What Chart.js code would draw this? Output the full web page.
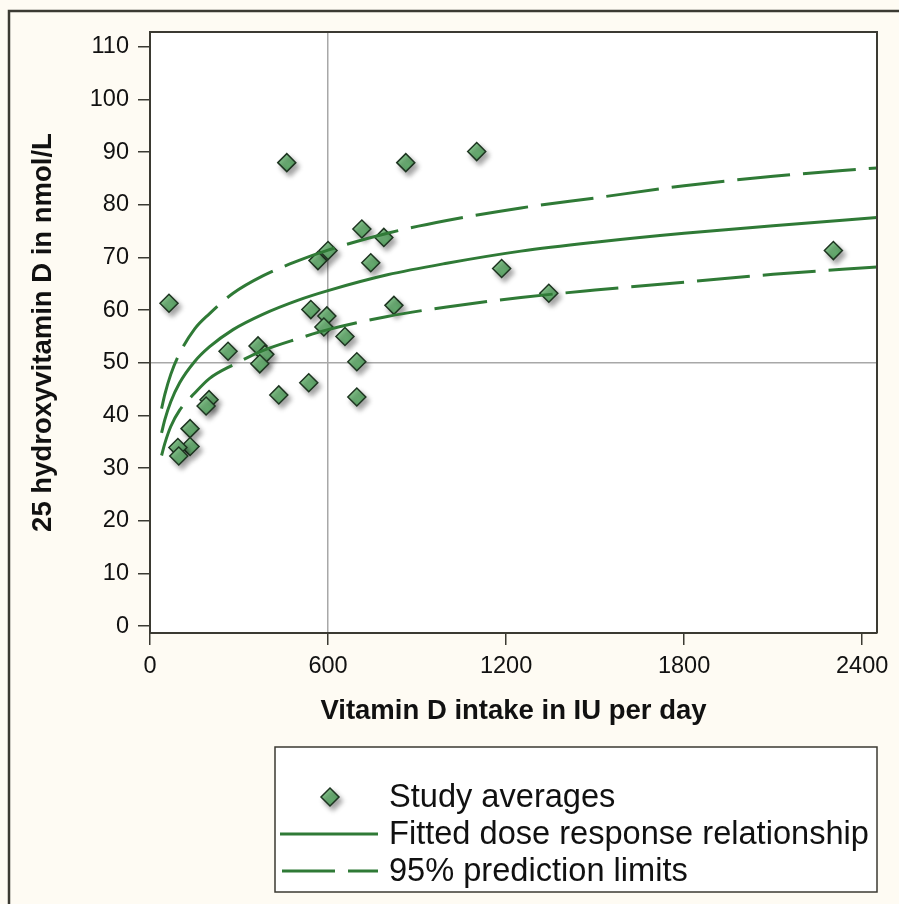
<!DOCTYPE html>
<html>
<head>
<meta charset="utf-8">
<script src="https://cdn.jsdelivr.net/npm/chart.js@4.4.1/dist/chart.umd.min.js"></script>
<style>
  html, body { margin: 0; padding: 0; background: #fefbf3; }
  canvas { display: block; }
</style>
</head>
<body>
<canvas id="doseChart" width="899" height="904"></canvas>
<script>
// Tick labels
const xTicks = [0, 600, 1200, 1800, 2400];
const yTicks = [0, 10, 20, 30, 40, 50, 60, 70, 80, 90, 100, 110];

// Study averages (IU per day, nmol/L)
const studyIntake = [64, 461, 862, 1101, 714, 788, 566, 600, 744, 822, 542, 596, 586, 657, 697, 697,
  535, 434, 263, 364, 387, 370, 199, 189, 135, 135, 94, 97, 1344, 1185, 2303];
const studyLevel = [61.3, 88.0, 88.0, 90.1, 75.4, 73.8, 69.4, 71.3, 69.0, 60.9, 60.1, 58.9, 56.8, 55.0, 50.2, 43.5,
  46.2, 43.9, 52.2, 53.2, 51.6, 49.8, 43.0, 41.8, 37.5, 34.1, 33.9, 32.3, 63.2, 67.9, 71.3];

// Fitted curve and prediction limits
const curveIntake = [39, 50, 70, 100, 150, 200, 280, 380, 500, 600, 800, 1000, 1250, 1500, 1800, 2100, 2450];
const fitted = [36.7, 39.2, 42.6, 46.2, 50.2, 53.0, 56.3, 59.2, 61.9, 63.7, 66.7, 68.9, 71.2, 72.9, 74.6, 76.0, 77.6];
const upperLimit = [41.3, 44.0, 47.8, 51.8, 56.4, 59.3, 63.2, 66.5, 69.4, 71.4, 74.6, 77.0, 79.4, 81.3, 83.6, 85.4, 87.0];
const lowerLimit = [32.4, 34.7, 37.9, 41.0, 44.2, 47.0, 49.6, 52.3, 54.6, 56.3, 58.8, 60.6, 62.4, 63.8, 65.3, 66.8, 68.2];

const legendLabels = ["Study averages", "Fitted dose response relationship", "95% prediction limits"];

const cream = "#fefbf3";
const ink = "#3b3a32";
const lineGreen = "#2f7a36";
const refGray = "#a8a8a8";
const font = "'Liberation Sans', Arial, sans-serif";
const dash = [53, 13];

const pairs = (xs, ys) => xs.map((x, i) => ({ x, y: ys[i] }));

const diamondFill = (ctx, px, py, r) => {
  if (!isFinite(px) || !isFinite(py)) return "#62ad6b";
  const g = ctx.createLinearGradient(px - r, py - r, px + r, py + r);
  g.addColorStop(0, "#93cf99");
  g.addColorStop(1, "#4a9656");
  return g;
};

const framePlugin = {
  id: "frame",
  beforeDraw(chart) {
    const { ctx, chartArea: a, width, height } = chart;
    ctx.save();
    ctx.fillStyle = cream;
    ctx.fillRect(0, 0, width, height);
    ctx.strokeStyle = ink;
    ctx.lineWidth = 2.5;
    ctx.beginPath();
    ctx.moveTo(9, height);
    ctx.lineTo(9, 11);
    ctx.lineTo(width, 11);
    ctx.stroke();
    ctx.fillStyle = "#ffffff";
    ctx.fillRect(a.left, a.top, a.width, a.height);
    ctx.restore();
  },
  beforeDatasetDraw(chart, args) {
    if (args.index !== 0) return;
    const ctx = chart.ctx;
    ctx.save();
    ctx.shadowColor = "rgba(0,0,0,0.35)";
    ctx.shadowBlur = 5;
    ctx.shadowOffsetX = 3;
    ctx.shadowOffsetY = 4;
  },
  afterDatasetDraw(chart, args) {
    if (args.index !== 0) return;
    chart.ctx.restore();
  },
  afterDraw(chart) {
    const { ctx, chartArea: a } = chart;
    ctx.save();
    ctx.strokeStyle = ink;
    ctx.lineWidth = 2;
    ctx.beginPath();
    ctx.moveTo(a.left, a.top);
    ctx.lineTo(a.right, a.top);
    ctx.lineTo(a.right, a.bottom);
    ctx.stroke();

    // legend box
    const lx = 275, ly = 747, lr = a.right, lb = 892;
    ctx.fillStyle = "#ffffff";
    ctx.fillRect(lx, ly, lr - lx, lb - ly);
    ctx.lineWidth = 1.5;
    ctx.strokeRect(lx, ly, lr - lx, lb - ly);

    const rows = [797, 834, 871];
    // diamond
    const dx = 330, dy = rows[0], r = 9;
    ctx.save();
    ctx.shadowColor = "rgba(0,0,0,0.35)";
    ctx.shadowBlur = 5;
    ctx.shadowOffsetX = 3;
    ctx.shadowOffsetY = 4;
    ctx.beginPath();
    ctx.moveTo(dx, dy - r);
    ctx.lineTo(dx + r, dy);
    ctx.lineTo(dx, dy + r);
    ctx.lineTo(dx - r, dy);
    ctx.closePath();
    ctx.fillStyle = diamondFill(ctx, dx, dy, r);
    ctx.fill();
    ctx.strokeStyle = "#1e3521";
    ctx.lineWidth = 1.5;
    ctx.stroke();
    ctx.restore();

    ctx.strokeStyle = lineGreen;
    ctx.lineWidth = 3;
    ctx.beginPath();
    ctx.moveTo(280, rows[1]);
    ctx.lineTo(378, rows[1]);
    ctx.stroke();
    ctx.setLineDash(dash);
    ctx.beginPath();
    ctx.moveTo(282, rows[2]);
    ctx.lineTo(378, rows[2]);
    ctx.stroke();
    ctx.setLineDash([]);

    ctx.fillStyle = "#111111";
    ctx.font = "32.6px " + font;
    ctx.textBaseline = "middle";
    ctx.textAlign = "left";
    legendLabels.forEach((t, i) => ctx.fillText(t, 389, rows[i] + 1));
    ctx.restore();
  }
};

const refLine = (value) => (c) => (c.tick && c.tick.value === value ? refGray : "rgba(0,0,0,0)");

new Chart(document.getElementById("doseChart"), {
  type: "scatter",
  data: {
    datasets: [
      {
        label: legendLabels[0],
        data: pairs(studyIntake, studyLevel),
        pointStyle: "rectRot",
        pointRadius: 9,
        pointHoverRadius: 9,
        borderColor: "#1e3521",
        borderWidth: 1.5,
        backgroundColor: (c) => {
          const ch = c.chart;
          if (!c.parsed || !ch.scales.x) return "#62ad6b";
          const px = ch.scales.x.getPixelForValue(c.parsed.x);
          const py = ch.scales.y.getPixelForValue(c.parsed.y);
          return diamondFill(ch.ctx, px, py, 9);
        },
        order: 2
      },
      {
        label: legendLabels[1],
        type: "line",
        data: pairs(curveIntake, fitted),
        borderColor: lineGreen,
        borderWidth: 3,
        pointRadius: 0,
        cubicInterpolationMode: "monotone",
        fill: false,
        order: 1
      },
      {
        label: legendLabels[2],
        type: "line",
        data: pairs(curveIntake, upperLimit),
        borderColor: lineGreen,
        borderWidth: 3,
        borderDash: dash,
        pointRadius: 0,
        cubicInterpolationMode: "monotone",
        fill: false,
        order: 1
      },
      {
        label: legendLabels[2],
        type: "line",
        data: pairs(curveIntake, lowerLimit),
        borderColor: lineGreen,
        borderWidth: 3,
        borderDash: dash,
        pointRadius: 0,
        cubicInterpolationMode: "monotone",
        fill: false,
        order: 1
      }
    ]
  },
  options: {
    responsive: false,
    animation: false,
    layout: { padding: { left: 0, top: 32, right: 22, bottom: 171 } },
    plugins: {
      legend: { display: false },
      tooltip: { enabled: false }
    },
    scales: {
      x: {
        type: "linear",
        min: 0,
        max: 2450,
        z: 1,
        afterFit: (s) => { s.height = 100; },
        afterBuildTicks: (s) => { s.ticks = xTicks.map((v) => ({ value: v })); },
        grid: {
          color: refLine(600),
          lineWidth: 1.5,
          tickColor: ink,
          tickLength: 12,
          tickWidth: 1.5
        },
        border: { color: ink, width: 2 },
        ticks: {
          color: "#111111",
          padding: 7,
          maxRotation: 0,
          font: { family: font, size: 23.5 },
          callback: (v) => String(v)
        },
        title: {
          display: true,
          text: "Vitamin D intake in IU per day",
          color: "#111111",
          font: { family: font, size: 27.5, weight: "bold" },
          padding: { bottom: 5 }
        }
      },
      y: {
        type: "linear",
        min: -1.3,
        max: 112.8,
        z: 1,
        afterFit: (s) => { s.width = 150; },
        afterBuildTicks: (s) => { s.ticks = yTicks.map((v) => ({ value: v })); },
        grid: {
          color: refLine(50),
          lineWidth: 1.5,
          tickColor: ink,
          tickLength: 12,
          tickWidth: 1.5
        },
        border: { color: ink, width: 2 },
        ticks: {
          color: "#111111",
          padding: 9,
          font: { family: font, size: 23.5 },
          callback: (v) => String(v)
        },
        title: {
          display: true,
          text: "25 hydroxyvitamin D in nmol/L",
          color: "#111111",
          font: { family: font, size: 27.5, weight: "bold" },
          padding: { top: 27 }
        }
      }
    }
  },
  plugins: [framePlugin]
});
</script>
</body>
</html>
